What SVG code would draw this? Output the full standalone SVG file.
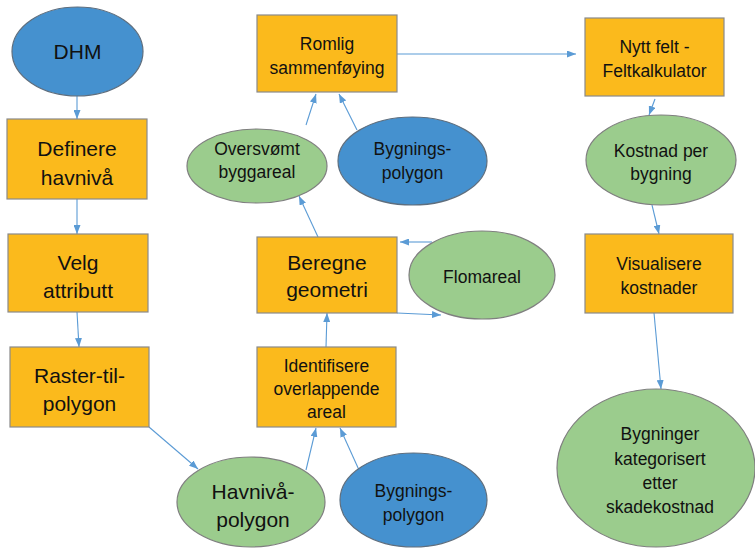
<svg xmlns="http://www.w3.org/2000/svg" width="755" height="548" viewBox="0 0 755 548">
<defs>
<marker id="arr" viewBox="0 0 9 7" refX="9" refY="3.5" markerWidth="9" markerHeight="7" markerUnits="userSpaceOnUse" orient="auto">
<path d="M0,0 L9,3.5 L0,7 z" fill="#5B9BD5"/>
</marker>
<style>
.box{fill:#FBBA1C;stroke:#8A8A8A;stroke-width:1.2}
.grn{fill:#9BCC8D;stroke:#7F7F7F;stroke-width:1.2}
.blu{fill:#4591CF;stroke:#5E6E7E;stroke-width:1.2}
.lg{font-family:"Liberation Sans",Arial,sans-serif;font-size:21px;fill:#111;text-anchor:middle}
.md{font-family:"Liberation Sans",Arial,sans-serif;font-size:17.5px;fill:#111;text-anchor:middle}
.con line{stroke:#5B9BD5;stroke-width:1.1;marker-end:url(#arr)}
</style>
</defs>
<rect width="755" height="548" fill="#fff"/>
<g class="con" id="connectors">
<line x1="77" y1="96" x2="77" y2="119"/>
<line x1="77" y1="199" x2="77" y2="234"/>
<line x1="77" y1="312" x2="79" y2="347"/>
<line x1="149" y1="427" x2="198" y2="469"/>
<line x1="306" y1="470" x2="316" y2="428"/>
<line x1="359" y1="470" x2="340" y2="428"/>
<line x1="326" y1="347" x2="327" y2="313"/>
<line x1="432" y1="242" x2="400" y2="242"/>
<line x1="397" y1="313" x2="441" y2="315"/>
<line x1="318" y1="237" x2="299" y2="196"/>
<line x1="306" y1="125" x2="316" y2="94"/>
<line x1="357" y1="130" x2="339" y2="94"/>
<line x1="397" y1="54" x2="576" y2="54"/>
<line x1="655" y1="99" x2="649" y2="115"/>
<line x1="652" y1="205" x2="659" y2="234"/>
<line x1="654" y1="313" x2="661" y2="389"/>
</g>
<g id="dhm"><ellipse class="blu" cx="77.5" cy="51.5" rx="65.5" ry="44.5"/><text class="lg" x="77.5" y="59">DHM</text></g>
<g id="definere"><rect class="box" x="7" y="119" width="140" height="80"/><text class="lg" x="77" y="156">Definere</text><text class="lg" x="77" y="185">havnivå</text></g>
<g id="velg"><rect class="box" x="8" y="234" width="140" height="78"/><text class="lg" x="78" y="270">Velg</text><text class="lg" x="78" y="298">attributt</text></g>
<g id="raster"><rect class="box" x="10" y="347" width="139" height="80"/><text class="lg" x="79.5" y="383">Raster-til-</text><text class="lg" x="79.5" y="411">polygon</text></g>
<g id="havniva"><ellipse class="grn" cx="251" cy="502" rx="74" ry="45"/><text class="lg" x="253" y="499">Havnivå-</text><text class="lg" x="253" y="527">polygon</text></g>
<g id="bygn2"><ellipse class="blu" cx="413.5" cy="500" rx="73.5" ry="47"/><text class="md" x="413.5" y="497">Bygnings-</text><text class="md" x="413.5" y="521">polygon</text></g>
<g id="identifisere"><rect class="box" x="257" y="347" width="139" height="80"/><text class="md" x="326.5" y="372">Identifisere</text><text class="md" x="326.5" y="395">overlappende</text><text class="md" x="326.5" y="418">areal</text></g>
<g id="beregne"><rect class="box" x="257" y="237" width="140" height="76"/><text class="lg" x="327" y="270">Beregne</text><text class="lg" x="327" y="297">geometri</text></g>
<g id="flomareal"><ellipse class="grn" cx="482" cy="275" rx="73" ry="44"/><text class="md" x="482" y="283">Flomareal</text></g>
<g id="oversvomt"><ellipse class="grn" cx="257" cy="166" rx="70" ry="37"/><text class="md" x="257" y="155">Oversvømt</text><text class="md" x="257" y="178">byggareal</text></g>
<g id="bygn1"><ellipse class="blu" cx="412.5" cy="161" rx="74.5" ry="44"/><text class="md" x="412.5" y="155">Bygnings-</text><text class="md" x="412.5" y="179">polygon</text></g>
<g id="romlig"><rect class="box" x="257" y="15" width="140" height="77"/><text class="md" x="327" y="50">Romlig</text><text class="md" x="327" y="74">sammenføying</text></g>
<g id="nytt"><rect class="box" x="585" y="18" width="139" height="78"/><text class="md" x="654.5" y="53">Nytt felt -</text><text class="md" x="654.5" y="77">Feltkalkulator</text></g>
<g id="kostnad"><ellipse class="grn" cx="661" cy="160" rx="75" ry="45"/><text class="md" x="661" y="157">Kostnad per</text><text class="md" x="661" y="180">bygning</text></g>
<g id="visualisere"><rect class="box" x="585" y="234" width="148" height="79"/><text class="md" x="659" y="270">Visualisere</text><text class="md" x="659" y="294">kostnader</text></g>
<g id="bygninger"><ellipse class="grn" cx="656" cy="468" rx="99" ry="79"/><text class="md" x="660" y="440">Bygninger</text><text class="md" x="660" y="465">kategorisert</text><text class="md" x="660" y="489">etter</text><text class="md" x="660" y="513">skadekostnad</text></g>
</svg>
